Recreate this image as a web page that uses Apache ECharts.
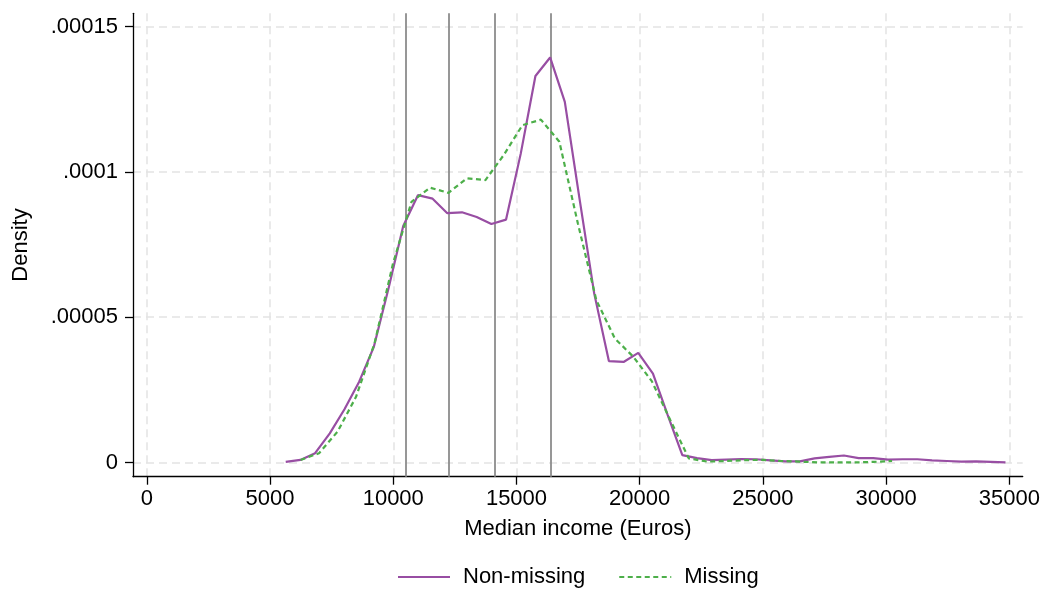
<!DOCTYPE html>
<html>
<head>
<meta charset="utf-8">
<script src="https://cdn.jsdelivr.net/npm/echarts@6/dist/echarts.min.js"></script>
<style>
html,body{margin:0;padding:0;background:#fff;}
#chart{width:1044px;height:589px;}
</style>
</head>
<body>
<div id="chart"></div>
<script>
// Kernel density of median income, split by whether the record is missing
const incomeGrid = [5637, 6233, 6829, 7425, 8021, 8617, 9213, 9809, 10405, 11001,
  11597, 12193, 12789, 13385, 13981, 14577, 15173, 15769, 16365, 16961,
  17557, 18153, 18749, 19345, 19941, 20537, 21133, 21729, 22325, 22921,
  23517, 24113, 24709, 25305, 25901, 26497, 27093, 27689, 28285, 28881,
  29477, 30073, 30669, 31265, 31861, 32457, 33053, 33649, 34245, 34841];
const nonMissingDensity = [0.0000002, 0.00000086, 0.0000032, 0.0000100, 0.0000183, 0.0000278, 0.0000398, 0.0000600, 0.0000814, 0.0000920,
  0.0000908, 0.0000858, 0.0000861, 0.0000845, 0.0000821, 0.0000836, 0.0001063, 0.0001330, 0.0001394, 0.0001241,
  0.0000908, 0.0000582, 0.0000349, 0.0000346, 0.0000377, 0.0000306, 0.0000164, 0.0000025, 0.0000015, 0.0000008,
  0.0000010, 0.0000012, 0.0000011, 0.0000007, 0.0000004, 0.0000004, 0.0000014, 0.0000019, 0.0000024, 0.0000015,
  0.0000015, 0.0000010, 0.0000011, 0.0000011, 0.0000007, 0.0000005, 0.0000003, 0.0000004, 0.0000002, 0.0000000];

const missingIncome = [6240, 6990, 7740, 8490, 9240, 9990, 10740, 11490, 12240, 12990,
  13740, 14490, 15240, 15990, 16740, 17490, 18240, 18990, 19740, 20490,
  21240, 21990, 22740, 23490, 24240, 24990, 25740, 26490, 27240, 27990,
  28740, 29490, 30240];
const missingDensity = [0.00000086, 0.0000032, 0.0000106, 0.0000226, 0.0000410, 0.0000685, 0.0000897, 0.0000946, 0.0000928, 0.0000978,
  0.0000972, 0.0001059, 0.0001161, 0.0001180, 0.0001104, 0.0000823, 0.0000559, 0.0000427, 0.0000364, 0.0000280,
  0.0000146, 0.0000014, 0.0000003, 0.0000005, 0.0000008, 0.0000009, 0.0000005, 0.0000003, 0.0000000, 0.0000000,
  0.0000000, 0.0000002, 0.0000005];

// Income cut points shown as vertical reference lines
const cutPoints = [10500, 12250, 14100, 16400];

const xTickValues = [0, 5000, 10000, 15000, 20000, 25000, 30000, 35000];
const yTickValues = [0, 0.00005, 0.0001, 0.00015];
const yTickLabels = ['0', '.00005', '.0001', '.00015'];
const seriesNames = ['Non-missing', 'Missing'];

const FONT = '"Liberation Sans", Arial, Helvetica, sans-serif';
const INK = '#000';

const chart = echarts.init(document.getElementById('chart'), null, { renderer: 'canvas' });

const gridLines = { show: true, lineStyle: { color: '#e4e4e4', width: 1.5, type: [8, 5] } };
const axisLineStyle = { color: INK, width: 1.3 };

const option = {
  animation: false,
  backgroundColor: '#fff',
  grid: { left: 133, right: 21.3, top: 13.3, bottom: 112.3, containLabel: false, outerBoundsMode: 'none' },
  xAxis: {
    type: 'value',
    min: -560,
    max: 35540,
    name: 'Median income (Euros)',
    nameLocation: 'middle',
    nameGap: 41,
    nameMoveOverlap: false,
    nameTextStyle: { fontSize: 22, color: INK, fontFamily: FONT },
    axisLine: { show: true, onZero: false, lineStyle: axisLineStyle },
    axisTick: { show: true, length: 8, customValues: xTickValues, lineStyle: axisLineStyle },
    axisLabel: {
      customValues: xTickValues, margin: 11, fontSize: 22, color: INK, fontFamily: FONT,
      formatter: function (v) { return String(Math.round(v)); }
    },
    splitLine: gridLines
  },
  yAxis: {
    type: 'value',
    min: -0.0000049,
    max: 0.0001546,
    name: 'Density',
    nameLocation: 'middle',
    nameGap: 101,
    nameMoveOverlap: false,
    nameTextStyle: { fontSize: 22, color: INK, fontFamily: FONT },
    axisLine: { show: true, onZero: false, lineStyle: axisLineStyle },
    axisTick: { show: true, length: 8, customValues: yTickValues, lineStyle: axisLineStyle },
    axisLabel: {
      customValues: yTickValues, margin: 15, fontSize: 22, color: INK, fontFamily: FONT,
      formatter: function (v) {
        for (let i = 0; i < yTickValues.length; i++) {
          if (Math.abs(yTickValues[i] - v) < 1e-9) return yTickLabels[i];
        }
        return '';
      }
    },
    splitLine: gridLines
  },
  legend: {
    data: seriesNames,
    left: 397,
    top: 566,
    padding: 0,
    itemWidth: 52,
    itemHeight: 14,
    itemGap: 33,
    itemStyle: { opacity: 0, borderWidth: 0 },
    textStyle: { fontSize: 22, color: INK, fontFamily: FONT, padding: [0, 0, 0, 8] }
  },
  series: [
    {
      name: 'cuts',
      type: 'line',
      data: [],
      z: 1,
      markLine: {
        silent: true,
        z: 1,
        symbol: ['none', 'none'],
        label: { show: false },
        lineStyle: { color: '#8c8c8c', width: 1.8, type: 'solid' },
        data: cutPoints.map(function (v) { return { xAxis: v }; })
      }
    },
    {
      name: seriesNames[0],
      type: 'line',
      z: 3,
      symbol: 'none',
      showSymbol: false,
      lineStyle: { color: '#984ea3', width: 2.2 },
      itemStyle: { color: '#984ea3' },
      data: incomeGrid.map(function (x, i) { return [x, nonMissingDensity[i]]; })
    },
    {
      name: seriesNames[1],
      type: 'line',
      z: 4,
      symbol: 'none',
      showSymbol: false,
      lineStyle: { color: '#4daf4a', width: 2.2, type: [5, 3.5] },
      itemStyle: { color: '#4daf4a' },
      data: missingIncome.map(function (x, i) { return [x, missingDensity[i]]; })
    }
  ]
};

chart.setOption(option);
</script>
</body>
</html>
